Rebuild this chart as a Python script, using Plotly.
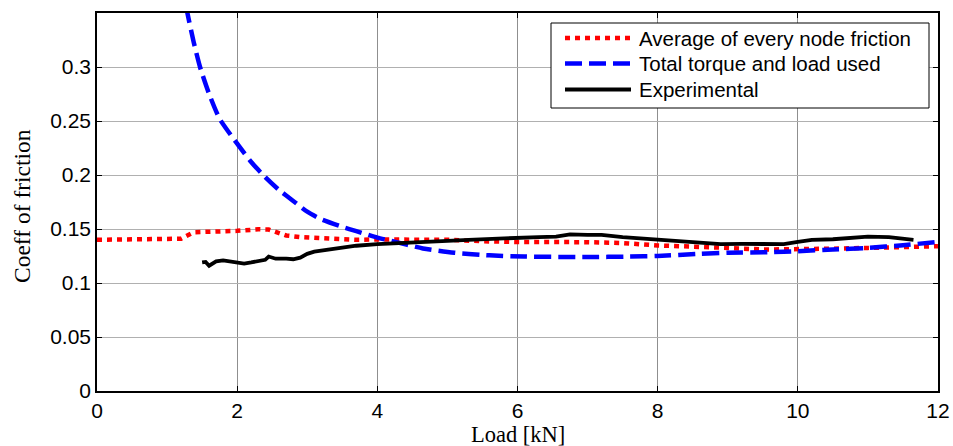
import plotly.graph_objects as go

# Average of every node friction
avg_x = [0, 0.5, 1.0, 1.2, 1.38, 1.7, 2.0, 2.3, 2.45, 2.7, 2.9, 3.2, 3.7, 4.0, 4.65, 5.0, 5.6, 6.0, 7.0, 7.5, 8.0, 8.5, 9.0, 9.5, 10.0, 10.5, 11.0, 11.5, 12.0]
avg_y = [0.140, 0.140, 0.1405, 0.141, 0.147, 0.1475, 0.1483, 0.1497, 0.1495, 0.144, 0.1425, 0.1415, 0.140, 0.1403, 0.1403, 0.140, 0.1385, 0.138, 0.1378, 0.137, 0.1348, 0.134, 0.1325, 0.131, 0.131, 0.1318, 0.1325, 0.133, 0.134]

# Total torque and load used
tot_x = [1.15, 1.29, 1.38, 1.47, 1.6, 1.75, 2.0, 2.2, 2.4, 2.6, 2.8, 3.0, 3.2, 3.5, 3.7, 4.0, 4.2, 4.65, 5.1, 5.6, 6.1, 7.0, 7.6, 8.0, 8.6, 9.0, 9.6, 10.0, 10.5, 11.0, 11.5, 12.0]
tot_y = [0.40, 0.35, 0.323, 0.30, 0.275, 0.252, 0.229, 0.212, 0.198, 0.186, 0.176, 0.166, 0.159, 0.152, 0.148, 0.142, 0.139, 0.132, 0.128, 0.1256, 0.1245, 0.124, 0.1245, 0.125, 0.127, 0.128, 0.1286, 0.1295, 0.131, 0.1325, 0.135, 0.138]

# Experimental
exp_x = [1.5, 1.55, 1.6, 1.65, 1.7, 1.8, 1.9, 2.0, 2.1, 2.2, 2.3, 2.4, 2.45, 2.55, 2.7, 2.8, 2.9, 3.0, 3.1, 3.3, 3.5, 3.7, 4.0, 4.2, 4.5, 4.8, 5.0, 5.3, 5.6, 5.8, 6.0, 6.3, 6.55, 6.75, 7.0, 7.2, 7.5, 7.8, 8.0, 8.3, 8.6, 8.9, 9.2, 9.5, 9.8, 10.0, 10.2, 10.5, 10.8, 11.0, 11.3, 11.5, 11.65]
exp_y = [0.119, 0.1195, 0.116, 0.118, 0.120, 0.121, 0.120, 0.1185, 0.118, 0.119, 0.1205, 0.1215, 0.1245, 0.1225, 0.1225, 0.122, 0.1235, 0.127, 0.129, 0.131, 0.133, 0.1345, 0.136, 0.1365, 0.137, 0.138, 0.139, 0.140, 0.141, 0.1415, 0.1418, 0.1425, 0.143, 0.145, 0.1445, 0.1445, 0.1425, 0.141, 0.140, 0.139, 0.137, 0.136, 0.1362, 0.1362, 0.136, 0.138, 0.140, 0.1405, 0.142, 0.143, 0.1425, 0.141, 0.140]

x_ticks = [0, 2, 4, 6, 8, 10, 12]
y_ticks = [0, 0.05, 0.1, 0.15, 0.2, 0.25, 0.3]
y_tick_labels = ["0", "0.05", "0.1", "0.15", "0.2", "0.25", "0.3"]

series_names = ["Average of every node friction", "Total torque and load used", "Experimental"]
series_colors = ["#ff0000", "#0000ff", "#000000"]
series_dash = ["5px,5px", "17px,7px", "solid"]
series_width = [4.5, 4.5, 3.8]

SANS = "Liberation Sans, Arial, sans-serif"
SERIF = "Liberation Serif, Times New Roman, serif"

W, H = 953, 446
L, R, T, B = 97, 15, 13, 55
PW, PH = W - L - R, H - T - B


def px_x(p):
    return (p - L) / PW


def px_y(p):
    return (H - B - p) / PH


fig = go.Figure()
for xs, ys, name, c, d, w in zip([avg_x, tot_x, exp_x], [avg_y, tot_y, exp_y], series_names,
                                 series_colors, series_dash, series_width):
    line = dict(color=c, width=w, dash=d)
    if name == series_names[1]:
        line.update(shape="spline", smoothing=0.6)
    fig.add_trace(go.Scatter(x=xs, y=ys, mode="lines", name=name, line=line, showlegend=False))

# manual legend (box, samples, labels)
shapes = [dict(type="rect", xref="paper", yref="paper", x0=px_x(551), x1=px_x(929), y0=px_y(108), y1=px_y(23),
               fillcolor="white", line=dict(color="black", width=1), layer="above")]
annotations = []
row_y = [38, 63.5, 89.5]
for name, c, d, w, ry in zip(series_names, series_colors, series_dash, series_width, row_y):
    shapes.append(dict(type="line", xref="paper", yref="paper", x0=px_x(565), x1=px_x(631), y0=px_y(ry), y1=px_y(ry),
                       line=dict(color=c, width=w, dash=d), layer="above"))
    annotations.append(dict(text=name, xref="paper", yref="paper", x=px_x(637), y=px_y(ry), xanchor="left",
                            yanchor="middle", showarrow=False, font=dict(family=SANS, size=20.5, color="black")))

annotations += [
    dict(text="Load [kN]", xref="paper", yref="paper", x=0.5, y=px_y(434), xanchor="center", yanchor="middle",
         showarrow=False, font=dict(family=SERIF, size=22.5, color="black")),
    dict(text="Coeff of friction", xref="paper", yref="paper", x=px_x(22), y=px_y(206), xanchor="center",
         yanchor="middle", textangle=-90, showarrow=False, font=dict(family=SERIF, size=23.5, color="black")),
]

fig.update_layout(
    width=W, height=H,
    margin=dict(l=L, r=R, t=T, b=B, autoexpand=False),
    paper_bgcolor="white", plot_bgcolor="white",
    font=dict(family=SANS, size=21, color="black"),
    showlegend=False,
    shapes=shapes,
    annotations=annotations,
)
fig.update_xaxes(range=[0, 12], tickvals=x_ticks, ticks="inside", ticklen=5, tickcolor="black",
                 showline=True, linecolor="black", linewidth=1.5, mirror="ticks",
                 showgrid=True, gridcolor="#8f8f8f", gridwidth=1, zeroline=False, automargin=False)
fig.update_yaxes(range=[0, 0.35], tickvals=y_ticks, ticktext=y_tick_labels, ticks="inside", ticklen=5, tickcolor="black",
                 showline=True, linecolor="black", linewidth=1.5, mirror="ticks",
                 showgrid=True, gridcolor="#b0b0b0", gridwidth=1, zeroline=False, automargin=False)

fig.write_html("out.html", config={"displayModeBar": False},
               post_script="document.body.style.margin='0';document.body.style.padding='0';")
